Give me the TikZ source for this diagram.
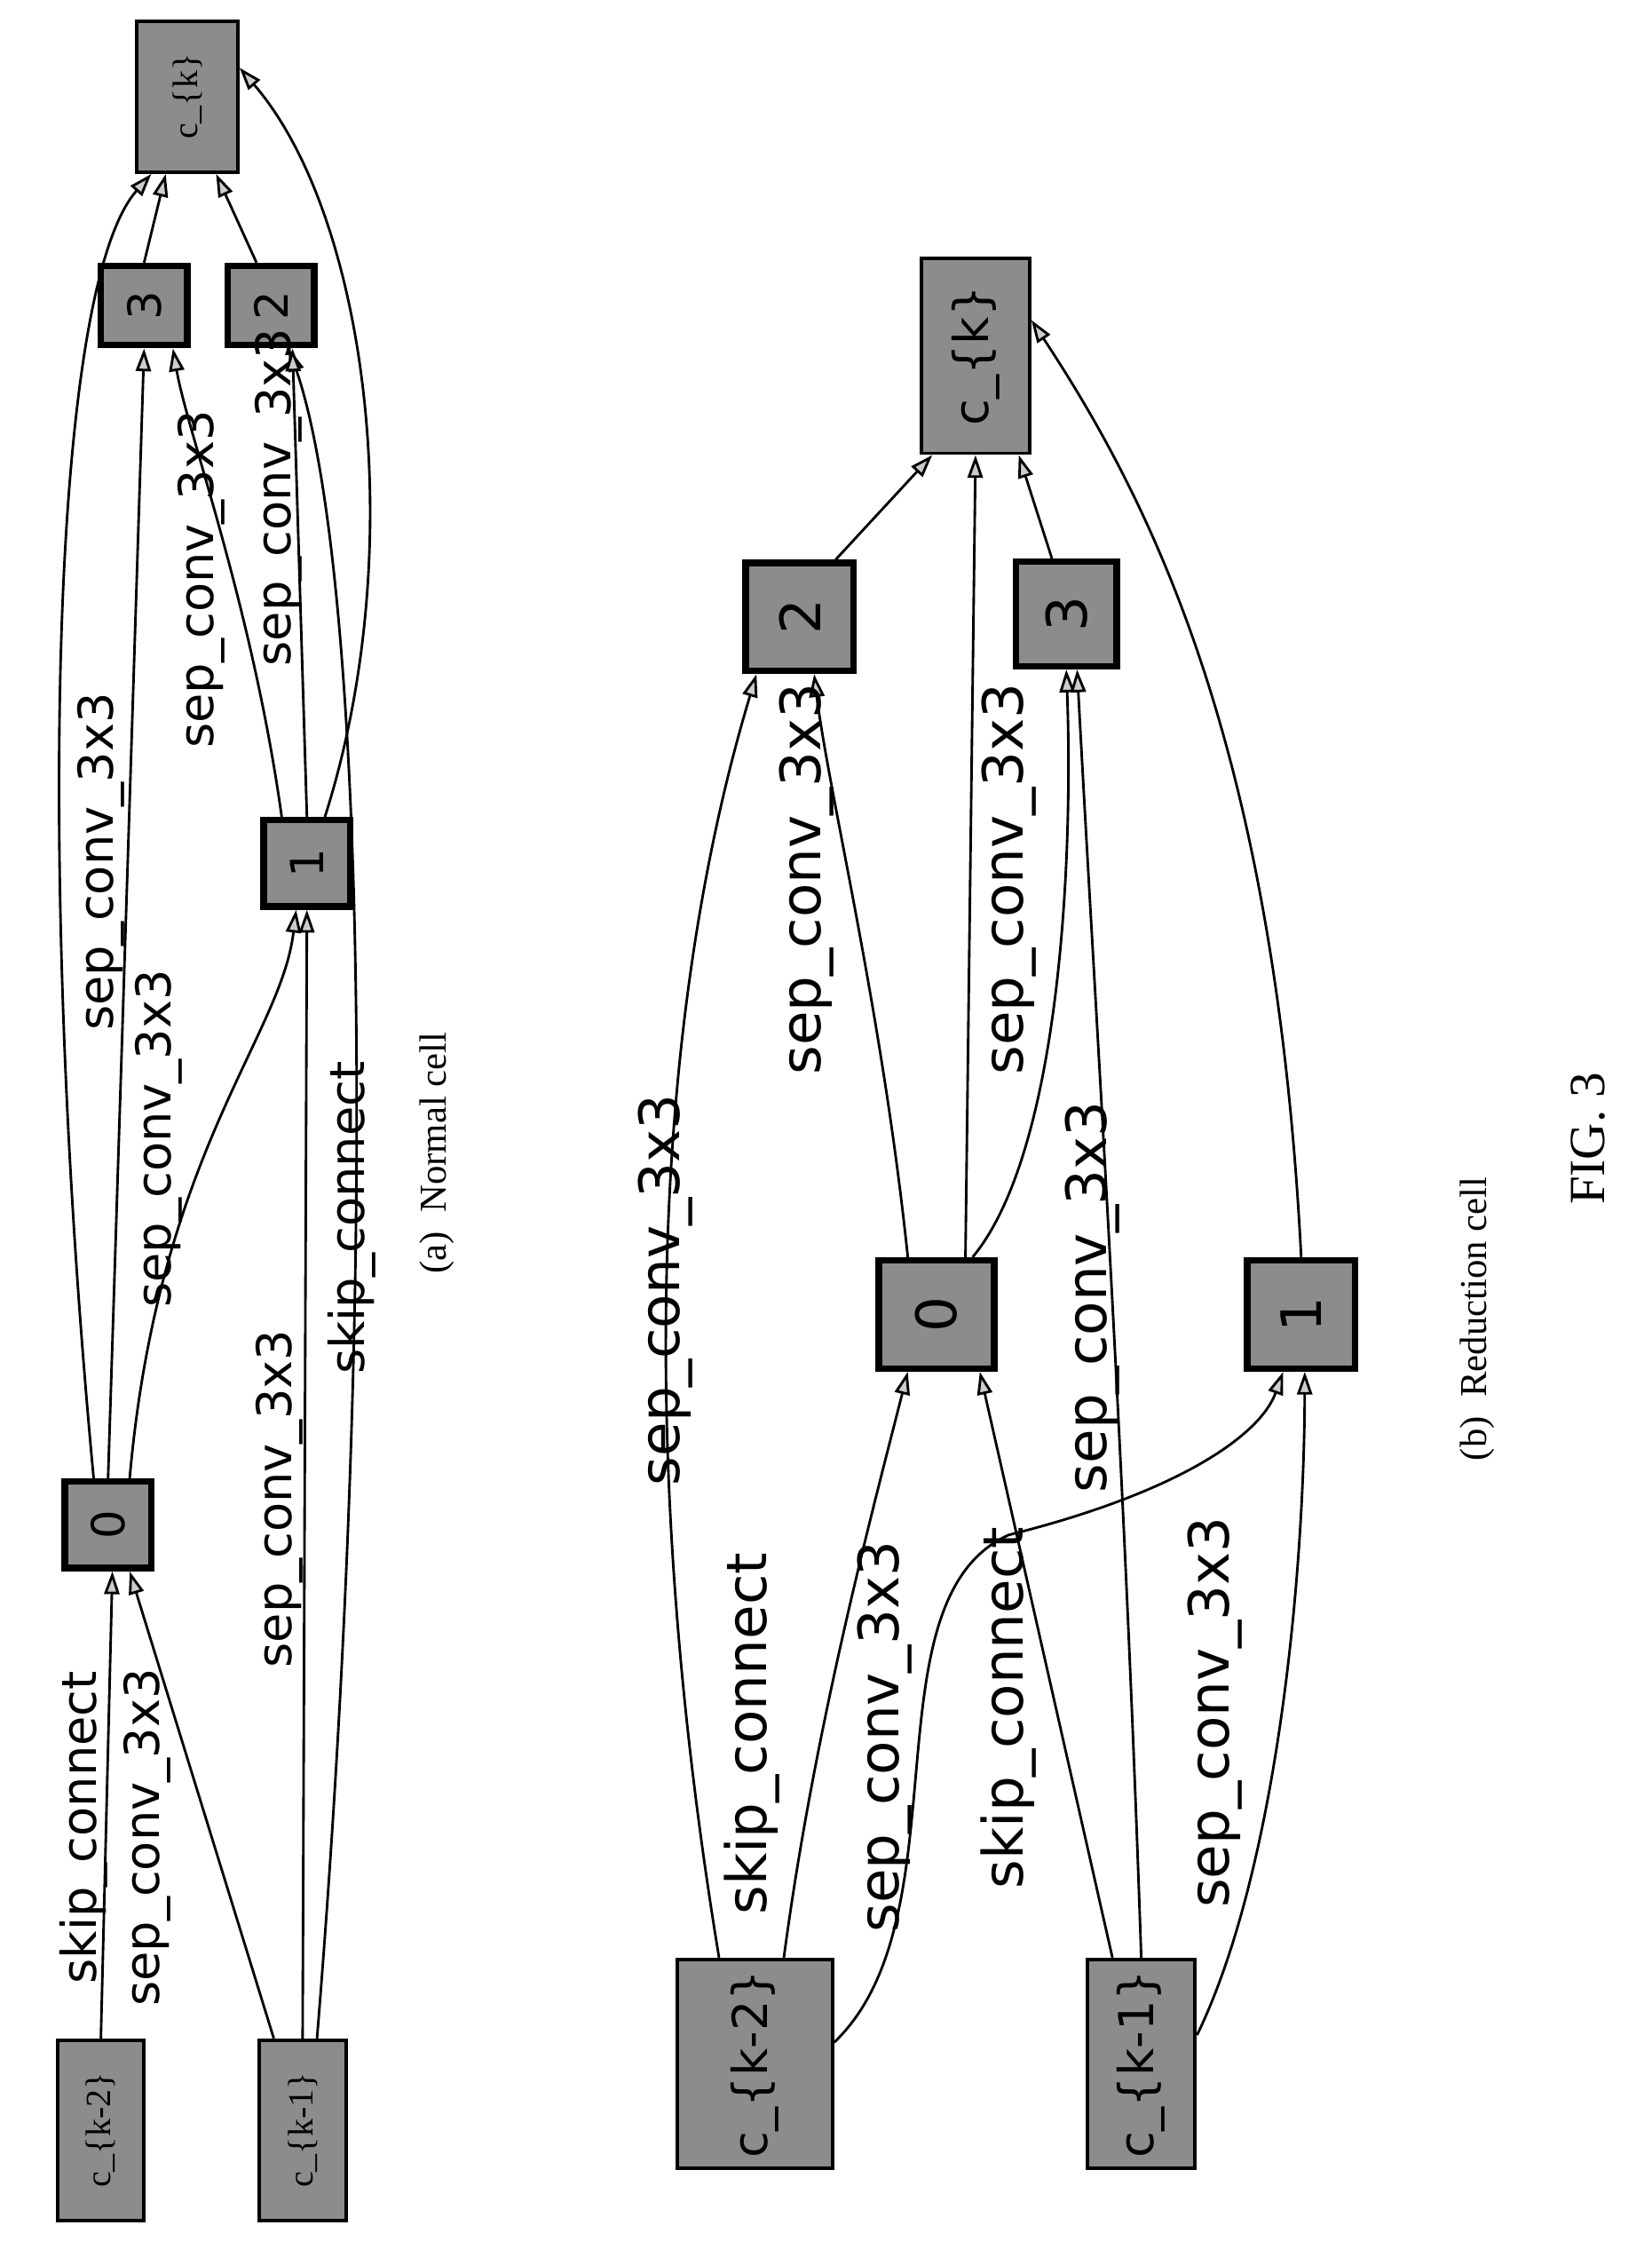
\documentclass[tikz,border=0pt]{standalone}
\usepackage{fontspec}
\setmainfont{Liberation Serif}
\newfontfamily\lab{DejaVu Sans}
\usetikzlibrary{arrows.meta}
\begin{document}
\begin{tikzpicture}[x=0.02cm,y=-0.02cm,
  box/.style={draw, line width=1.4pt, fill=black!45, inner sep=0pt},
  numbox/.style={box, line width=2.6pt},
  e/.style={line width=1pt, -{Triangle[open, fill=black!20, length=9pt, width=6pt]}},
  la/.style={font=\lab\fontsize{19}{19}\selectfont, rotate=90, inner sep=0pt},
  lb/.style={font=\lab\fontsize{22}{22}\selectfont, rotate=90, inner sep=0pt},
  captxt/.style={rotate=90, inner sep=0pt}]
\useasboundingbox (0,0) rectangle (1146,1566);
% ---------- (a) Normal cell
\node[box, minimum width=1.4cm, minimum height=2.1cm] (ack) at (130,67) {\rotatebox{90}{\fontsize{14}{14}\selectfont c\_\{k\}}};
\node[numbox, minimum width=1.2cm, minimum height=1.1cm] (a3) at (100,212) {\rotatebox{90}{\lab\fontsize{18}{18}\selectfont 3}};
\node[numbox, minimum width=1.2cm, minimum height=1.1cm] (a2) at (188,212) {\rotatebox{90}{\lab\fontsize{18}{18}\selectfont 2}};
\node[numbox, minimum width=1.2cm, minimum height=1.2cm] (a1) at (213,599) {\rotatebox{90}{\lab\fontsize{18}{18}\selectfont 1}};
\node[numbox, minimum width=1.2cm, minimum height=1.2cm] (a0) at (75,1058) {\rotatebox{90}{\lab\fontsize{18}{18}\selectfont 0}};
\node[box, minimum width=1.2cm, minimum height=2.5cm] (akm2) at (70,1478) {\rotatebox{90}{\fontsize{14}{14}\selectfont c\_\{k-2\}}};
\node[box, minimum width=1.2cm, minimum height=2.5cm] (akm1) at (210,1478) {\rotatebox{90}{\fontsize{14}{14}\selectfont c\_\{k-1\}}};

\draw[e] (akm2.north) -- ([xshift=0.06cm]a0.south);
\draw[e] ([xshift=-0.4cm]akm1.north) -- ([xshift=0.3cm]a0.south);
\draw[e] (akm1.north) -- (a1.south);
\draw[e] ([xshift=0.2cm]akm1.north) .. controls (262,900) and (255,400) .. ([xshift=0.25cm]a2.south);
\draw[e] ([xshift=-0.2cm]a0.north) .. controls (25,600) and (35,200) .. ([xshift=-0.5cm]ack.south);
\draw[e] (a0.north) -- (a3.south);
\draw[e] ([xshift=0.3cm]a0.north) .. controls (110,800) and (195,720) .. ([xshift=-0.15cm]a1.south);
\draw[e] ([xshift=-0.35cm]a1.north) .. controls (175,420) and (130,300) .. ([xshift=0.4cm]a3.south);
\draw[e] (a1.north) -- ([xshift=0.3cm]a2.south);
\draw[e] ([xshift=0.25cm]a1.north) .. controls (285,380) and (255,150) .. ([yshift=0.4cm]ack.east);
\draw[e] (a3.north) -- ([xshift=-0.3cm]ack.south);
\draw[e] ([xshift=-0.2cm]a2.north) -- ([xshift=0.4cm]ack.south);

\node[la] (la1) at (58,1268) {skip\_connect};
\node[la] (la2) at (102,1275) {sep\_conv\_3x3};
\node[la] (la3) at (194,1040) {sep\_conv\_3x3};
\node[la] (la4) at (244,845) {skip\_connect};
\node[la] (la5) at (70,598) {sep\_conv\_3x3};
\node[la] (la6) at (110,790) {sep\_conv\_3x3};
\node[la] (la7) at (140,402) {sep\_conv\_3x3};
\node[la] (la8) at (193,345) {sep\_conv\_3x3};
\node[captxt, font=\fontsize{15}{15}\selectfont] (capa) at (303,800) {(a)\ \ Normal cell};

% ---------- (b) Reduction cell
\node[box, minimum width=1.5cm, minimum height=2.7cm] (bck) at (677,247) {\rotatebox{90}{\lab\fontsize{19}{19}\selectfont c\_\{k\}}};
\node[numbox, minimum width=1.5cm, minimum height=1.5cm] (b2) at (555,428) {\rotatebox{90}{\lab\fontsize{22}{22}\selectfont 2}};
\node[numbox, minimum width=1.4cm, minimum height=1.45cm] (b3) at (740,426) {\rotatebox{90}{\lab\fontsize{22}{22}\selectfont 3}};
\node[numbox, minimum width=1.6cm, minimum height=1.5cm] (b0) at (650,912) {\rotatebox{90}{\lab\fontsize{22}{22}\selectfont 0}};
\node[numbox, minimum width=1.5cm, minimum height=1.5cm] (b1) at (903,912) {\rotatebox{90}{\lab\fontsize{22}{22}\selectfont 1}};
\node[box, minimum width=2.15cm, minimum height=2.9cm] (bkm2) at (524,1432) {\rotatebox{90}{\lab\fontsize{19}{19}\selectfont c\_\{k-2\}}};
\node[box, minimum width=1.5cm, minimum height=2.9cm] (bkm1) at (792,1432) {\rotatebox{90}{\lab\fontsize{19}{19}\selectfont c\_\{k-1\}}};

\draw[e] ([xshift=0.5cm]b2.north) -- ([xshift=-0.6cm]bck.south);
\draw[e] ([xshift=0.4cm]b0.north) -- (bck.south);
\draw[e] ([xshift=-0.2cm]b3.north) -- ([xshift=0.6cm]bck.south);
\draw[e] (b1.north) .. controls (885,520) and (800,350) .. ([yshift=0.5cm]bck.east);
\draw[e] ([xshift=-0.5cm]bkm2.north) .. controls (440,1000) and (455,700) .. ([xshift=-0.6cm]b2.south);
\draw[e] ([xshift=0.4cm]bkm2.north) .. controls (565,1200) and (605,1050) .. ([xshift=-0.4cm]b0.south);
\draw[e] ([yshift=0.3cm]bkm2.east) .. controls (670,1330) and (600,1110) .. (700,1065) .. controls (820,1035) and (875,995) .. ([xshift=-0.25cm]b1.south);
\draw[e] ([xshift=-0.4cm]bkm1.north) -- ([xshift=0.6cm]b0.south);
\draw[e] (bkm1.north) .. controls (780,1000) and (760,700) .. ([xshift=0.15cm]b3.south);
\draw[e] ([yshift=0.4cm]bkm1.east) .. controls (885,1300) and (905,1100) .. ([xshift=0.05cm]b1.south);
\draw[e] ([xshift=-0.4cm]b0.north) .. controls (612,700) and (575,550) .. ([xshift=0.2cm]b2.south);
\draw[e] ([xshift=0.5cm]b0.north) .. controls (735,800) and (745,600) .. (b3.south);

\node[lb] (lb1) at (462,895) {sep\_conv\_3x3};
\node[lb] (lb2) at (522,1203) {skip\_connect};
\node[lb] (lb3) at (614,1205) {sep\_conv\_3x3};
\node[lb] (lb4) at (700,1185) {skip\_connect};
\node[lb] (lb5) at (758,900) {sep\_conv\_3x3};
\node[lb] (lb6) at (843,1188) {sep\_conv\_3x3};
\node[lb] (lb7) at (560,610) {sep\_conv\_3x3};
\node[lb] (lb8) at (700,610) {sep\_conv\_3x3};
\node[captxt, font=\fontsize{15}{15}\selectfont] (capb) at (1025,915) {(b)\ \ Reduction cell};
\node[captxt, font=\fontsize{20}{20}\selectfont] (fig) at (1102,790) {FIG. 3};
\end{tikzpicture}
\end{document}
